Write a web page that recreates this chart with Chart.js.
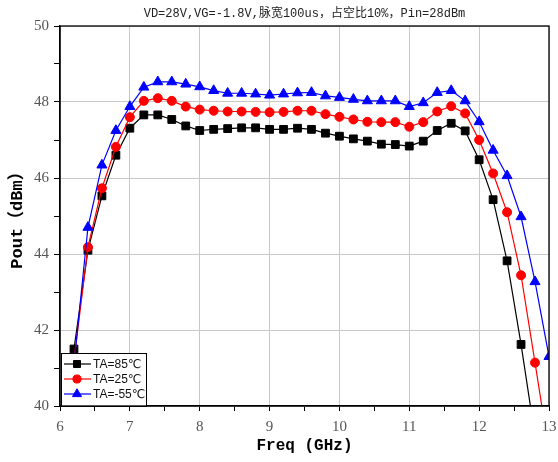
<!DOCTYPE html>
<html><head><meta charset="utf-8">
<script src="https://cdn.jsdelivr.net/npm/chart.js@4.4.0/dist/chart.umd.min.js"></script>
<style>html,body{margin:0;padding:0;background:#fff}#wrap{width:558px;height:462px;position:relative}</style>
</head><body><div id="wrap"><canvas id="c"></canvas></div>
<script>
const titleText = 'VD=28V,VG=-1.8V,脉宽100us，占空比10%，Pin=28dBm';
const xTitle = 'Freq (GHz)';
const yTitle = 'Pout（dBm）';
const seriesLabels = ['TA=85℃', 'TA=25℃', 'TA=-55℃'];
const xMajorTicks = [6, 7, 8, 9, 10, 11, 12, 13];
const yMajorTicks = [40, 42, 44, 46, 48, 50];

const freqGHz = [6.2, 6.4, 6.6, 6.8, 7.0, 7.2, 7.4, 7.6, 7.8, 8.0, 8.2, 8.4, 8.6, 8.8, 9.0, 9.2, 9.4, 9.6, 9.8, 10.0,
  10.2, 10.4, 10.6, 10.8, 11.0, 11.2, 11.4, 11.6, 11.8, 12.0, 12.2, 12.4, 12.6, 12.8, 13.0];
const pout85 = [41.5, 44.1, 45.53, 46.6, 47.31, 47.66, 47.66, 47.54, 47.37, 47.25, 47.28, 47.3, 47.32, 47.32, 47.28, 47.28, 47.31, 47.28, 47.18, 47.1,
  47.03, 46.97, 46.89, 46.88, 46.84, 46.97, 47.25, 47.44, 47.24, 46.48, 45.43, 43.82, 41.62, 39.2, null];
const pout25 = [41.2, 44.18, 45.73, 46.82, 47.6, 48.03, 48.1, 48.03, 47.88, 47.8, 47.77, 47.75, 47.75, 47.74, 47.73, 47.74, 47.77, 47.77, 47.68, 47.61,
  47.54, 47.48, 47.47, 47.47, 47.35, 47.47, 47.75, 47.89, 47.7, 47.0, 46.12, 45.1, 43.44, 41.14, 38.8];
const poutM55 = [41.1, 44.7, 46.34, 47.25, 47.88, 48.39, 48.53, 48.53, 48.47, 48.4, 48.3, 48.23, 48.23, 48.21, 48.18, 48.21, 48.24, 48.25, 48.16, 48.12,
  48.07, 48.03, 48.03, 48.03, 47.88, 47.98, 48.25, 48.3, 48.03, 47.48, 46.73, 46.06, 44.98, 43.27, 41.3];

const toXY = vals => freqGHz.map((f, i) => ({x: f, y: vals[i]}));

function drawMarker(ctx, style, x, y, r, color) {
  ctx.save();
  ctx.fillStyle = color; ctx.strokeStyle = color; ctx.lineWidth = 1;
  ctx.beginPath();
  if (style === 'rect') {
    const s = Math.SQRT1_2 * r; ctx.rect(x - s, y - s, 2 * s, 2 * s);
  } else if (style === 'circle') {
    ctx.arc(x, y, r, 0, Math.PI * 2);
  } else if (style === 'triangle') {
    let a = 0;
    ctx.moveTo(x + Math.sin(a) * r, y - Math.cos(a) * r); a += 2 * Math.PI / 3;
    ctx.lineTo(x + Math.sin(a) * r, y - Math.cos(a) * r); a += 2 * Math.PI / 3;
    ctx.lineTo(x + Math.sin(a) * r, y - Math.cos(a) * r);
    ctx.closePath();
  }
  ctx.fill(); ctx.stroke();
  ctx.restore();
}

const legendPlugin = {
  id: 'innerLegend',
  afterDatasetsDraw(chart) {
    const {ctx, chartArea} = chart;
    const bx = chartArea.left + 1, bh = 53, by = chartArea.bottom - bh, bw = 85;
    ctx.save();
    ctx.fillStyle = '#fff';
    ctx.fillRect(bx, by, bw, bh);
    ctx.strokeStyle = '#000'; ctx.lineWidth = 1;
    ctx.strokeRect(bx + 0.5, by + 0.5, bw, bh);
    const rows = [11, 26, 41];
    chart.data.datasets.forEach((ds, i) => {
      const y = by + rows[i];
      ctx.strokeStyle = ds.borderColor; ctx.lineWidth = 1.2;
      ctx.beginPath(); ctx.moveTo(bx + 3, y); ctx.lineTo(bx + 30, y); ctx.stroke();
      drawMarker(ctx, ds.pointStyle, bx + 16, y, ds.pointRadius * 0.9, ds.borderColor);
      ctx.fillStyle = '#111';
      ctx.font = "12px 'Liberation Sans', 'DejaVu Sans', sans-serif";
      ctx.textBaseline = 'middle'; ctx.textAlign = 'left';
      ctx.fillText(ds.label, bx + 32, y + 0.5);
    });
    ctx.restore();
  }
};

const framePlugin = {
  id: 'frame',
  afterDraw(chart) {
    const {ctx, chartArea: a} = chart;
    ctx.save();
    ctx.strokeStyle = '#000'; ctx.lineWidth = 1.3;
    ctx.strokeRect(a.left, a.top, a.right - a.left, a.bottom - a.top);
    ctx.restore();
  }
};

const tickFont = {family: "'Liberation Serif', 'DejaVu Serif', serif", size: 15};

new Chart(document.getElementById('c'), {
  type: 'line',
  data: {
    datasets: [
      {label: seriesLabels[0], data: toXY(pout85), borderColor: '#000000', backgroundColor: '#000000',
        pointStyle: 'rect', pointRadius: 5.5, borderWidth: 1.2, order: 3},
      {label: seriesLabels[1], data: toXY(pout25), borderColor: '#ff0000', backgroundColor: '#ff0000',
        pointStyle: 'circle', pointRadius: 4.5, borderWidth: 1.2, order: 2},
      {label: seriesLabels[2], data: toXY(poutM55), borderColor: '#0000ff', backgroundColor: '#0000ff',
        pointStyle: 'triangle', pointRadius: 5.8, borderWidth: 1.2, order: 1}
    ]
  },
  options: {
    responsive: true, maintainAspectRatio: false, animation: false,
    layout: {padding: {left: 0, right: 9, top: 0.6, bottom: 0}},
    plugins: {
      legend: {display: false},
      tooltip: {enabled: false},
      title: {display: true, text: titleText, fullSize: false, color: '#222',
        font: {family: "'Liberation Mono', 'Noto Sans CJK SC', monospace", size: 12, weight: 'normal'},
        padding: {top: 6, bottom: 5}}
    },
    elements: {point: {pointBorderWidth: 1, hoverRadius: 5}, line: {tension: 0}},
    scales: {
      x: {
        type: 'linear', min: 6, max: 13,
        ticks: {stepSize: 0.5, autoSkip: false, maxRotation: 0, color: '#555', font: tickFont, padding: 7,
          callback: v => xMajorTicks.includes(v) ? String(v) : ''},
        grid: {color: c => (c.tick && xMajorTicks.includes(c.tick.value)) ? '#c8c8c8' : 'rgba(0,0,0,0)',
          tickColor: '#000', tickLength: 5, lineWidth: 1},
        border: {display: true, color: '#000', width: 1.3},
        title: {display: true, text: xTitle, color: '#000',
          font: {family: "'Liberation Mono', 'Noto Sans CJK SC', monospace", size: 16, weight: 'bold'},
          padding: {top: 0, bottom: 6}},
        afterFit: s => { s.height = 56; s.paddingLeft = 0; s.paddingRight = 0; }
      },
      y: {
        min: 40, max: 50,
        ticks: {stepSize: 1, autoSkip: false, color: '#555', font: tickFont, padding: 5,
          callback: v => yMajorTicks.includes(v) ? String(v) : ''},
        grid: {color: c => (c.tick && yMajorTicks.includes(c.tick.value)) ? '#c8c8c8' : 'rgba(0,0,0,0)',
          tickColor: '#000', tickLength: 6, lineWidth: 1},
        border: {display: true, color: '#000', width: 1.3},
        title: {display: true, text: yTitle, color: '#000',
          font: {family: "'Liberation Mono', 'Noto Sans CJK SC', monospace", size: 17, weight: 'bold'},
          padding: {top: 8, bottom: 0}},
        afterFit: s => { s.width = 60; }
      }
    }
  },
  plugins: [legendPlugin, framePlugin]
});
</script>
</body></html>
